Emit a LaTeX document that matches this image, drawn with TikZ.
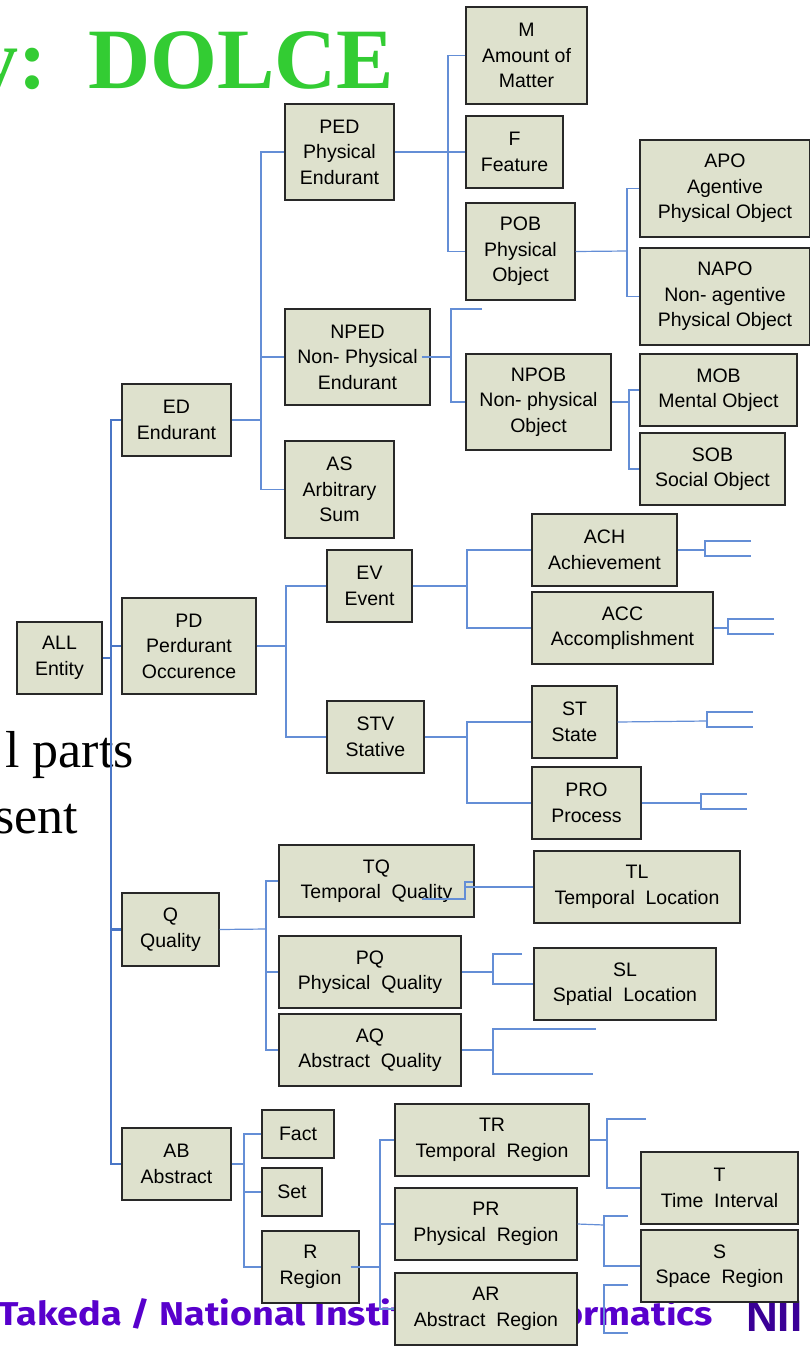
\documentclass[tikz,border=0pt]{standalone}
\usepackage{graphicx}
\usepackage{fontspec}
\setmainfont{Liberation Sans}
\newfontfamily\headserif{Liberation Serif}
\newfontfamily\footfont{Fira Sans}
\definecolor{boxfill}{RGB}{222,225,205}
\definecolor{boxline}{RGB}{40,40,40}
\definecolor{linkblue}{RGB}{100,142,214}
\definecolor{spineblue}{RGB}{74,118,198}
\definecolor{titlegreen}{RGB}{51,204,51}
\definecolor{footpurple}{RGB}{88,0,204}
\definecolor{niipurple}{RGB}{58,0,150}
\begin{document}
\begin{tikzpicture}[x=1pt,y=-1pt,
  box/.style={draw=boxline, fill=boxfill, line width=1.3pt, inner sep=0pt,
    align=center, font=\fontsize{19.5}{25.5}\selectfont},
  link/.style={draw=linkblue, line width=1.2pt},
  spine/.style={draw=spineblue, line width=2.8pt}]
\useasboundingbox (0,0) rectangle (809,1349);

% --- slide text lying behind the tree ---
\node[anchor=base east, inner sep=0, text=titlegreen,
  font=\headserif\bfseries\fontsize{86}{90}\selectfont] (ttlA) at (47,88) {y:};
\node[anchor=base west, inner sep=0, text=titlegreen,
  font=\headserif\bfseries\fontsize{86}{90}\selectfont] (ttlB) at (88,88) {DOLCE};
\node[anchor=base east, inner sep=0, font=\headserif\fontsize{52}{56}\selectfont] (bodyA) at (134,767) {l parts};
\node[anchor=base east, inner sep=0, font=\headserif\fontsize{52}{56}\selectfont] (bodyB) at (78,833) {sent};
\node[anchor=base west, inner sep=0, text=footpurple,
  font=\footfont\bfseries\fontsize{33}{36}\selectfont] (foot) at (-2,1325)
  {\scalebox{1.145}[1]{Takeda / National Institute of Informatics}};
\node[anchor=base west, inner sep=0, text=niipurple,
  font=\bfseries\fontsize{44}{44}\selectfont] (nii) at (746,1331) {NII};

% --- categories ---
\node[box, minimum width=85, minimum height=72] (ALL) at (59.5,658) {ALL\\Entity};
\node[box, minimum width=109, minimum height=72] (ED) at (176.5,420) {ED\\Endurant};
\node[box, minimum width=134, minimum height=96] (PD) at (189,646) {PD\\Perdurant\\Occurence};
\node[box, minimum width=97, minimum height=73] (Q) at (170.5,929.5) {Q\\Quality};
\node[box, minimum width=109, minimum height=72] (AB) at (176.5,1164) {AB\\Abstract};

\node[box, minimum width=109, minimum height=96] (PED) at (339.5,152) {PED\\Physical\\Endurant};
\node[box, minimum width=145, minimum height=96] (NPED) at (357.5,357) {NPED\\Non- Physical\\Endurant};
\node[box, minimum width=109, minimum height=97] (AS) at (339.5,489.5) {AS\\Arbitrary\\Sum};

\node[box, minimum width=121, minimum height=97] (M) at (526.5,55.5) {M\\Amount of\\Matter};
\node[box, minimum width=97, minimum height=72] (F) at (514.5,152) {F\\Feature};
\node[box, minimum width=109, minimum height=97] (POB) at (520.5,251.5) {POB\\Physical\\Object};
\node[box, minimum width=170, minimum height=97] (APO) at (725,188.5) {APO\\Agentive\\Physical Object};
\node[box, minimum width=170, minimum height=97] (NAPO) at (725,296.5) {NAPO\\Non- agentive\\Physical Object};
\node[box, minimum width=145, minimum height=96] (NPOB) at (538.5,402) {NPOB\\Non- physical\\Object};
\node[box, minimum width=157, minimum height=72] (MOB) at (718.5,390) {MOB\\Mental Object};
\node[box, minimum width=145, minimum height=72] (SOB) at (712.5,469) {SOB\\Social Object};

\node[box, minimum width=85, minimum height=72] (EV) at (369.5,586) {EV\\Event};
\node[box, minimum width=97, minimum height=72] (STV) at (375.5,737) {STV\\Stative};
\node[box, minimum width=145, minimum height=72] (ACH) at (604.5,550) {ACH\\Achievement};
\node[box, minimum width=181, minimum height=72] (ACC) at (622.5,628) {ACC\\Accomplishment};
\node[box, minimum width=85, minimum height=72] (ST) at (574.5,722) {ST\\State};
\node[box, minimum width=109, minimum height=72] (PRO) at (586.5,803) {PRO\\Process};

\node[box, minimum width=195, minimum height=72] (TQ) at (376.5,881) {TQ\\Temporal~ Quality};
\node[box, minimum width=206, minimum height=72] (TL) at (637,887) {TL\\Temporal~ Location};
\node[box, minimum width=182, minimum height=72] (PQ) at (370,972) {PQ\\Physical~ Quality};
\node[box, minimum width=182, minimum height=72] (SL) at (625,984) {SL\\Spatial~ Location};
\node[box, minimum width=182, minimum height=72] (AQ) at (370,1050) {AQ\\Abstract~ Quality};

\node[box, minimum width=72, minimum height=48] (Fact) at (298,1134) {Fact};
\node[box, minimum width=60, minimum height=48] (Set) at (292,1192) {Set};
\node[box, minimum width=97, minimum height=72] (R) at (310.5,1267) {R\\Region};
\node[box, minimum width=194, minimum height=72] (TR) at (492,1140) {TR\\Temporal~ Region};
\node[box, minimum width=182, minimum height=72] (PR) at (486,1224) {PR\\Physical~ Region};
\node[box, minimum width=182, minimum height=72] (AR) at (486,1309) {AR\\Abstract~ Region};
\node[box, minimum width=157, minimum height=72] (T) at (719.5,1188) {T\\Time~ Interval};
\node[box, minimum width=157, minimum height=72] (S) at (719.5,1266) {S\\Space~ Region};

% --- junction points of the tree ---
\coordinate (sp) at (111,658);
\coordinate (edb) at (261,420);
\coordinate (pedb) at (448,152);
\coordinate (pobb) at (627,251);
\coordinate (npedb) at (451,357);
\coordinate (npeds) at (482,309);
\coordinate (npobb) at (629,402);
\coordinate (pdb) at (286,646);
\coordinate (evb) at (467,586);
\coordinate (stvb) at (467,737);
\coordinate (achb) at (705,550);
\coordinate (ach1) at (751,541);
\coordinate (ach2) at (751,556);
\coordinate (accb) at (728,628);
\coordinate (acc1) at (774,619);
\coordinate (acc2) at (774,634);
\coordinate (stb) at (707,721);
\coordinate (st1) at (753,712);
\coordinate (st2) at (753,727);
\coordinate (prob) at (701,803);
\coordinate (pro1) at (747,794);
\coordinate (pro2) at (747,809);
\coordinate (qb) at (266,929);
\coordinate (tlj) at (465,887);
\coordinate (tq1) at (473,882);
\coordinate (tq2) at (422,899);
\coordinate (pqb) at (493,972);
\coordinate (pq1) at (522,954);
\coordinate (aqb) at (493,1050);
\coordinate (aq1) at (596,1029);
\coordinate (aq2) at (593,1074);
\coordinate (abb) at (244,1164);
\coordinate (rb) at (380,1267);
\coordinate (trb) at (607,1140);
\coordinate (tr1) at (646,1119);
\coordinate (prb) at (604,1225);
\coordinate (pr1) at (628,1216);
\coordinate (arb) at (604,1309);
\coordinate (ar1) at (628,1285);
\coordinate (ar2) at (628,1333);

% --- main spine from Entity ---
\draw[spine] (ALL.east) -- (sp);
\draw[spine] (ED.west) -| (sp) |- (AB.west);
\draw[spine] (sp) |- (PD.west);
\draw[spine] (sp) |- (Q.west);

% --- Endurant branch ---
\draw[link] (ED.east) -- (edb);
\draw[link] (PED.west) -| (edb) |- (AS.west);
\draw[link] (edb) |- (NPED.west);
\draw[link] (PED.east) -- (pedb);
\draw[link] (M.west) -| (pedb) |- (POB.west);
\draw[link] (pedb) -- (F.west);
\draw[link] (POB.east) -- (pobb);
\draw[link] (APO.west) -| (pobb) |- (NAPO.west);
\draw[link] ([xshift=-9pt]NPED.east) -- (npedb);
\draw[link] (npeds) -| (npedb) |- (NPOB.west);
\draw[link] (NPOB.east) -- (npobb);
\draw[link] (MOB.west) -| (npobb) |- (SOB.west);

% --- Perdurant branch ---
\draw[link] (PD.east) -- (pdb);
\draw[link] (EV.west) -| (pdb) |- (STV.west);
\draw[link] (EV.east) -- (evb);
\draw[link] (ACH.west) -| (evb) |- (ACC.west);
\draw[link] (STV.east) -- (stvb);
\draw[link] (ST.west) -| (stvb) |- (PRO.west);
\draw[link] (ACH.east) -- (achb);
\draw[link] (ach1) -| (achb) |- (ach2);
\draw[link] (ACC.east) -- (accb);
\draw[link] (acc1) -| (accb) |- (acc2);
\draw[link] (ST.east) -- (stb);
\draw[link] (st1) -| (stb) |- (st2);
\draw[link] (PRO.east) -- (prob);
\draw[link] (pro1) -| (prob) |- (pro2);

% --- Quality branch ---
\draw[link] (Q.east) -- (qb);
\draw[link] (TQ.west) -| (qb) |- (AQ.west);
\draw[link] (qb) |- (PQ.west);
\draw[link] (TL.west) -- (tlj);
\draw[link] (tq1) -| (tlj) |- (tq2);
\draw[link] (PQ.east) -- (pqb);
\draw[link] (pq1) -| (pqb) |- (SL.west);
\draw[link] (AQ.east) -- (aqb);
\draw[link] (aq1) -| (aqb) |- (aq2);

% --- Abstract branch ---
\draw[link] (AB.east) -- (abb);
\draw[link] (Fact.west) -| (abb) |- (R.west);
\draw[link] (abb) |- (Set.west);
\draw[link] ([xshift=-9pt]R.east) -- (rb);
\draw[link] (TR.west) -| (rb) |- (AR.west);
\draw[link] (rb) |- (PR.west);
\draw[link] (TR.east) -- (trb);
\draw[link] (tr1) -| (trb) |- (T.west);
\draw[link] (PR.east) -- (prb);
\draw[link] (pr1) -| (prb) |- (S.west);
\draw[link] (ar1) -| (arb) |- (ar2);
\end{tikzpicture}
\end{document}
